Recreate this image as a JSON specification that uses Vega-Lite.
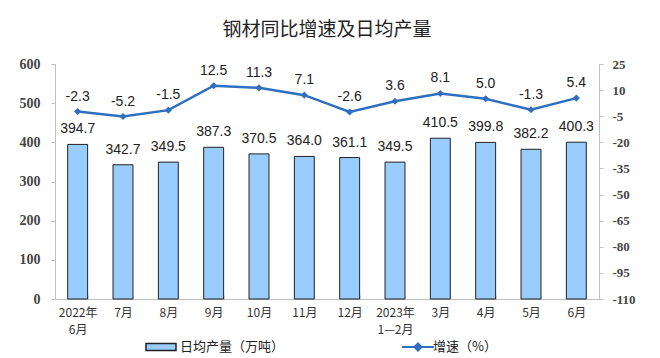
{
  "$schema": "https://vega.github.io/schema/vega-lite/v6.json",
  "width": 544,
  "height": 235,
  "autosize": {"type": "none"},
  "padding": {"left": 55, "top": 64, "right": 61, "bottom": 59},
  "background": "white",
  "title": {
    "text": "钢材同比增速及日均产量",
    "font": "Noto Sans CJK SC",
    "fontSize": 19,
    "fontWeight": "normal",
    "color": "#222222",
    "anchor": "middle",
    "offset": 17
  },
  "config": {
    "view": {"stroke": null},
    "axis": {"grid": false}
  },
  "data": {
    "values": [
      {"month": "2022年|6月", "output": 394.7, "growth": -2.3},
      {"month": "7月", "output": 342.7, "growth": -5.2},
      {"month": "8月", "output": 349.5, "growth": -1.5},
      {"month": "9月", "output": 387.3, "growth": 12.5},
      {"month": "10月", "output": 370.5, "growth": 11.3},
      {"month": "11月", "output": 364.0, "growth": 7.1},
      {"month": "12月", "output": 361.1, "growth": -2.6},
      {"month": "2023年|1—2月", "output": 349.5, "growth": 3.6},
      {"month": "3月", "output": 410.5, "growth": 8.1},
      {"month": "4月", "output": 399.8, "growth": 5.0},
      {"month": "5月", "output": 382.2, "growth": -1.3},
      {"month": "6月", "output": 400.3, "growth": 5.4}
    ]
  },
  "encoding": {
    "x": {
      "field": "month",
      "type": "ordinal",
      "sort": null,
      "scale": {"paddingInner": 0.56, "paddingOuter": 0.28},
      "axis": {
        "title": null,
        "labelAngle": 0,
        "labelExpr": "datum.value ? split(datum.value, '|') : ''",
        "labelFont": "Noto Sans CJK SC",
        "labelFontSize": 12,
        "labelColor": "#333333",
        "labelPadding": 12,
        "labelLineHeight": 17,
        "labelBaseline": "top",
        "labelOverlap": false,
        "domainColor": "#bfbfbf",
        "tickColor": "#d9d9d9",
        "tickSize": -4,
        "tickBand": "extent"
      }
    }
  },
  "layer": [
    {
      "layer": [
        {
          "mark": {"type": "bar", "stroke": "#222222", "strokeWidth": 1},
          "encoding": {
            "y": {
              "field": "output",
              "type": "quantitative",
              "scale": {"domain": [0, 600], "nice": false, "zero": true},
              "axis": {
                "title": null,
                "values": [0, 100, 200, 300, 400, 500, 600],
                "tickCount": 20,
                "labelOverlap": false,
                "labelFont": "Liberation Serif",
                "labelFontSize": 14,
                "labelFontWeight": "bold",
                "labelColor": "#444444",
                "labelPadding": 11,
                "domainColor": "#bfbfbf",
                "tickColor": "#bfbfbf",
                "tickSize": 4
              }
            },
            "fill": {
              "datum": "日均产量（万吨）",
              "scale": {"range": ["#99ccff"]},
              "legend": {
                "orient": "none",
                "legendX": 95,
                "legendY": 272,
                "title": null,
                "symbolType": "M-1.5,-0.35H1.5V0.35H-1.5Z",
                "symbolSize": 400,
                "symbolStrokeColor": "#222222",
                "symbolStrokeWidth": 1.5,
                "labelFont": "Noto Sans CJK SC",
                "labelFontSize": 13,
                "labelColor": "#222222",
                "labelOffset": 8
              }
            }
          }
        },
        {
          "mark": {"type": "text", "baseline": "bottom", "dy": -8, "font": "Liberation Sans", "fontSize": 14, "color": "#222222"},
          "encoding": {
            "y": {"field": "output", "type": "quantitative"},
            "text": {"field": "output", "type": "quantitative", "format": ".1f"}
          }
        }
      ]
    },
    {
      "layer": [
        {
          "mark": {"type": "line", "strokeWidth": 2.5},
          "encoding": {
            "y": {
              "field": "growth",
              "type": "quantitative",
              "scale": {"domain": [-110, 25], "nice": false, "zero": false},
              "axis": {
                "orient": "right",
                "title": null,
                "values": [-110, -95, -80, -65, -50, -35, -20, -5, 10, 25],
                "tickCount": 20,
                "labelOverlap": false,
                "labelExpr": "toString(datum.value)",
                "labelFont": "Liberation Serif",
                "labelFontSize": 13,
                "labelFontWeight": "bold",
                "labelColor": "#444444",
                "labelPadding": 9,
                "domainColor": "#bfbfbf",
                "tickColor": "#bfbfbf",
                "tickSize": 4
              }
            },
            "stroke": {
              "datum": "增速（%）",
              "scale": {"range": ["#2f6fc0"]},
              "legend": {
                "orient": "none",
                "legendX": 352,
                "legendY": 272,
                "title": null,
                "symbolType": "M-1.6,0H1.6M-0.35,0L0,-0.35L0.35,0L0,0.35Z",
                "symbolSize": 400,
                "symbolFillColor": "#2f6fc0",
                "symbolStrokeWidth": 2,
                "labelFont": "Noto Sans CJK SC",
                "labelFontSize": 13,
                "labelColor": "#222222",
                "labelOffset": 4
              }
            }
          }
        },
        {
          "mark": {"type": "point", "shape": "diamond", "filled": true, "size": 50, "color": "#2f6fc0", "opacity": 1},
          "encoding": {
            "y": {"field": "growth", "type": "quantitative"}
          }
        },
        {
          "mark": {"type": "text", "baseline": "bottom", "dy": -8, "font": "Liberation Sans", "fontSize": 14, "color": "#222222", "text": {"expr": "replace(format(datum.growth, '.1f'), '−', '-')"}},
          "encoding": {
            "y": {"field": "growth", "type": "quantitative"}
          }
        }
      ]
    }
  ],
  "resolve": {"scale": {"y": "independent"}}
}
